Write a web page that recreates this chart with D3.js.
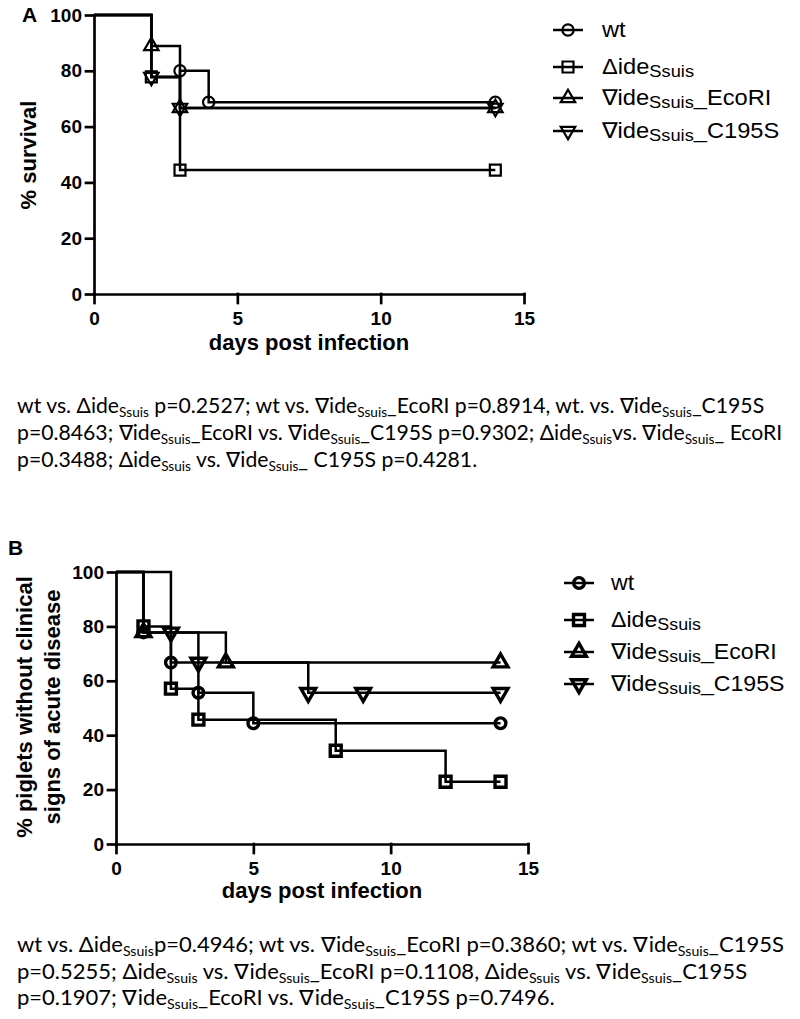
<!DOCTYPE html>
<html><head><meta charset="utf-8">
<script src="https://cdn.jsdelivr.net/npm/d3@7"></script>
<style>body{margin:0;background:#fff} svg{display:block} text{white-space:pre}</style>
</head><body>
<svg id="c" width="800" height="1019"></svg>
<script>
// ---------- DATA ----------
const legendLabels = ["wt", "Δide{Ssuis}", "∇ide{Ssuis}_EcoRI", "∇ide{Ssuis}_C195S"];
const symbolKinds = ["circle", "square", "triangle", "triangleDown"];
const xTickValues = [0, 5, 10, 15];
const yTickValues = [0, 20, 40, 60, 80, 100];

// Panel A: % survival (step change days / values, and days with symbols)
const aWtDays = [0, 2, 3, 4, 14],  aWtVals = [100, 77.8, 80, 68.75, 68.75], aWtMarks = [3, 4, 14];
const aDelDays = [0, 2, 3, 14],    aDelVals = [100, 77.8, 44.4, 44.4],      aDelMarks = [2, 3, 14];
const aEcoDays = [0, 2, 3, 14],    aEcoVals = [100, 88.9, 66.7, 66.7],      aEcoMarks = [2, 3, 14];
const aC195Days = [0, 2, 3, 14],   aC195Vals = [100, 77.8, 66.7, 66.7],     aC195Marks = [2, 3, 14];

// Panel B: % piglets without clinical signs of acute disease
const bWtDays = [0, 1, 2, 3, 5, 14],        bWtVals = [100, 77.8, 66.7, 55.6, 44.4, 44.4],        bWtMarks = [1, 2, 3, 5, 14];
const bDelDays = [0, 1, 2, 3, 8, 12, 14],   bDelVals = [100, 80, 57.1, 45.7, 34.3, 22.9, 22.9],   bDelMarks = [1, 2, 3, 8, 12, 14];
const bEcoDays = [0, 1, 4, 14],             bEcoVals = [100, 77.8, 66.7, 66.7],                   bEcoMarks = [1, 4, 14];
const bC195Days = [0, 2, 3, 7, 14],         bC195Vals = [100, 77.8, 66.7, 55.6, 55.6],            bC195Marks = [2, 3, 7, 9, 14];

const statsA = [
  "wt vs. Δide{Ssuis} p=0.2527; wt vs. ∇ide{Ssuis}_EcoRI p=0.8914, wt. vs. ∇ide{Ssuis}_C195S",
  "p=0.8463; ∇ide{Ssuis}_EcoRI vs. ∇ide{Ssuis}_C195S p=0.9302; Δide{Ssuis}vs. ∇ide{Ssuis}_ EcoRI",
  "p=0.3488; Δide{Ssuis} vs. ∇ide{Ssuis}_ C195S p=0.4281."
];
const statsB = [
  "wt vs. Δide{Ssuis}p=0.4946; wt vs. ∇ide{Ssuis}_EcoRI p=0.3860; wt vs. ∇ide{Ssuis}_C195S",
  "p=0.5255; Δide{Ssuis} vs. ∇ide{Ssuis}_EcoRI p=0.1108, Δide{Ssuis} vs. ∇ide{Ssuis}_C195S",
  "p=0.1907; ∇ide{Ssuis}_EcoRI vs. ∇ide{Ssuis}_C195S p=0.7496."
];

// ---------- DRAWING ----------
const svg = d3.select("#c");
const AX_FONT = "'Liberation Sans', Arial, sans-serif";
const TXT_FONT = "Lato, 'Open Sans', sans-serif";

function richText(sel, str, mainSize, subSize, subDy) {
  const parts = str.split(/(\{[^}]*\})/).filter(s => s.length);
  let inSub = false;
  parts.forEach(p => {
    if (p.startsWith("{")) {
      sel.append("tspan").attr("font-size", subSize).attr("dy", subDy).text(p.slice(1, -1));
      inSub = true;
    } else {
      const t = sel.append("tspan").attr("font-size", mainSize).text(p);
      if (inSub) { t.attr("dy", -subDy); inSub = false; }
    }
  });
}

function symbolPath(kind, size) {
  const t = kind === "circle" ? d3.symbolCircle : kind === "square" ? d3.symbolSquare : d3.symbolTriangle;
  return d3.symbol().type(t).size(size)();
}

function stepValue(days, vals, d) {
  let v = vals[0];
  for (let i = 0; i < days.length; i++) if (days[i] <= d) v = vals[i];
  return v;
}

function drawMarker(g, kind, cx, cy, sw, sizes) {
  g.append("path")
    .attr("d", symbolPath(kind, sizes[kind]))
    .attr("transform", `translate(${cx},${cy})` + (kind === "triangleDown" ? " rotate(180)" : ""))
    .attr("fill", "none").attr("stroke", "#000").attr("stroke-width", sw);
}

function drawPanel(cfg) {
  const g = svg.append("g");
  const x = d3.scaleLinear([0, 15], cfg.xRange);
  const y = d3.scaleLinear([0, 100], cfg.yRange);

  const xAxis = g.append("g").attr("transform", `translate(0,${y(0)})`)
    .call(d3.axisBottom(x).tickValues(xTickValues).tickSize(9).tickPadding(9).tickSizeOuter(0));
  const yAxis = g.append("g").attr("transform", `translate(${x(0)},0)`)
    .call(d3.axisLeft(y).tickValues(yTickValues).tickSize(8).tickPadding(4).tickSizeOuter(0));
  [xAxis, yAxis].forEach(a => {
    a.selectAll("path,line").attr("stroke", "#000").attr("stroke-width", 2.7).attr("stroke-linecap", "square");
    a.selectAll("text").attr("font-family", AX_FONT).attr("font-weight", "bold").attr("font-size", 19).attr("fill", "#000");
  });

  const line = d3.line().x(d => x(d[0])).y(d => y(d[1])).curve(d3.curveStepAfter);
  cfg.series.forEach((s, i) => {
    const pts = s.days.map((d, j) => [d, s.vals[j]]);
    g.append("path").attr("d", line(pts)).attr("fill", "none").attr("stroke", "#000").attr("stroke-width", 2.5);
  });
  cfg.series.forEach((s, i) => {
    s.marks.forEach(d => drawMarker(g, symbolKinds[i], x(d), y(stepValue(s.days, s.vals, d)), cfg.markSW, cfg.symSize));
  });

  // panel letter
  g.append("text").attr("x", cfg.letterPos[0]).attr("y", cfg.letterPos[1])
    .attr("font-family", AX_FONT).attr("font-weight", "bold").attr("font-size", 21).text(cfg.letter);

  // axis titles
  g.append("text").attr("x", (cfg.xRange[0] + cfg.xRange[1]) / 2).attr("y", cfg.xTitleY)
    .attr("text-anchor", "middle").attr("font-family", AX_FONT).attr("font-weight", "bold").attr("font-size", 22)
    .text("days post infection");
  cfg.yTitle.forEach((t, k) => {
    g.append("text").attr("transform", `translate(${cfg.yTitleX[k]},${cfg.yTitleCY}) rotate(-90)`)
      .attr("text-anchor", "middle").attr("font-family", AX_FONT).attr("font-weight", "bold").attr("font-size", 22)
      .text(t);
  });

  // legend
  const lg = g.append("g");
  const textNodes = [];
  legendLabels.forEach((lab, i) => {
    const ly = cfg.legendY[i];
    lg.append("line").attr("x1", cfg.legendX).attr("x2", cfg.legendX + 30).attr("y1", ly).attr("y2", ly)
      .attr("stroke", "#000").attr("stroke-width", 2.5);
    drawMarker(lg, symbolKinds[i], cfg.legendX + 15, ly, cfg.markSW, cfg.symSize);
    const t = lg.append("text").attr("x", 0).attr("y", 0)
      .attr("font-family", AX_FONT).attr("fill", "#000");
    richText(t, lab, 22, 17, 3);
    textNodes.push({ t, ly });
  });
  const refW = textNodes[3].t.node().getComputedTextLength();
  const sx = cfg.legendC195W / refW;
  textNodes.forEach(({ t, ly }) => {
    t.attr("transform", `translate(${cfg.legendTextX},${ly + 7}) scale(${sx},1)`);
  });

  // statistics paragraph
  const pg = svg.append("g");
  const nodes = cfg.stats.map((s, k) => {
    const t = pg.append("text").attr("x", 0).attr("y", 0).attr("font-family", TXT_FONT).attr("fill", "#000");
    richText(t, s, 21, 13.5, 4);
    return t;
  });
  const wMax = d3.max(nodes, t => t.node().getComputedTextLength());
  const psx = 766 / wMax;
  nodes.forEach((t, k) => t.attr("transform", `translate(17,${cfg.statsY[k]}) scale(${psx},1)`));
}

drawPanel({
  letter: "A", letterPos: [22, 22],
  xRange: [94, 524], yRange: [294, 15],
  xTitleY: 350, yTitle: ["% survival"], yTitleX: [36], yTitleCY: 155,
  series: [
    { days: aWtDays, vals: aWtVals, marks: aWtMarks },
    { days: aDelDays, vals: aDelVals, marks: aDelMarks },
    { days: aEcoDays, vals: aEcoVals, marks: aEcoMarks },
    { days: aC195Days, vals: aC195Vals, marks: aC195Marks }
  ],
  markSW: 2.2, symSize: { circle: 100, square: 120, triangle: 90, triangleDown: 90 },
  legendX: 553, legendTextX: 602, legendY: [30, 67, 98, 131], legendC195W: 178,
  stats: statsA, statsY: [413, 440, 467]
});

drawPanel({
  letter: "B", letterPos: [8, 555],
  xRange: [116, 528], yRange: [844, 572],
  xTitleY: 898, yTitle: ["% piglets without clinical", "signs of acute disease"], yTitleX: [32, 60], yTitleCY: 707,
  series: [
    { days: bWtDays, vals: bWtVals, marks: bWtMarks },
    { days: bDelDays, vals: bDelVals, marks: bDelMarks },
    { days: bEcoDays, vals: bEcoVals, marks: bEcoMarks },
    { days: bC195Days, vals: bC195Vals, marks: bC195Marks }
  ],
  markSW: 3.4, symSize: { circle: 90, square: 120, triangle: 95, triangleDown: 95 },
  legendX: 564, legendTextX: 611, legendY: [583, 620, 652, 684], legendC195W: 174,
  stats: statsB, statsY: [952, 979, 1005]
});
</script>
</body></html>
